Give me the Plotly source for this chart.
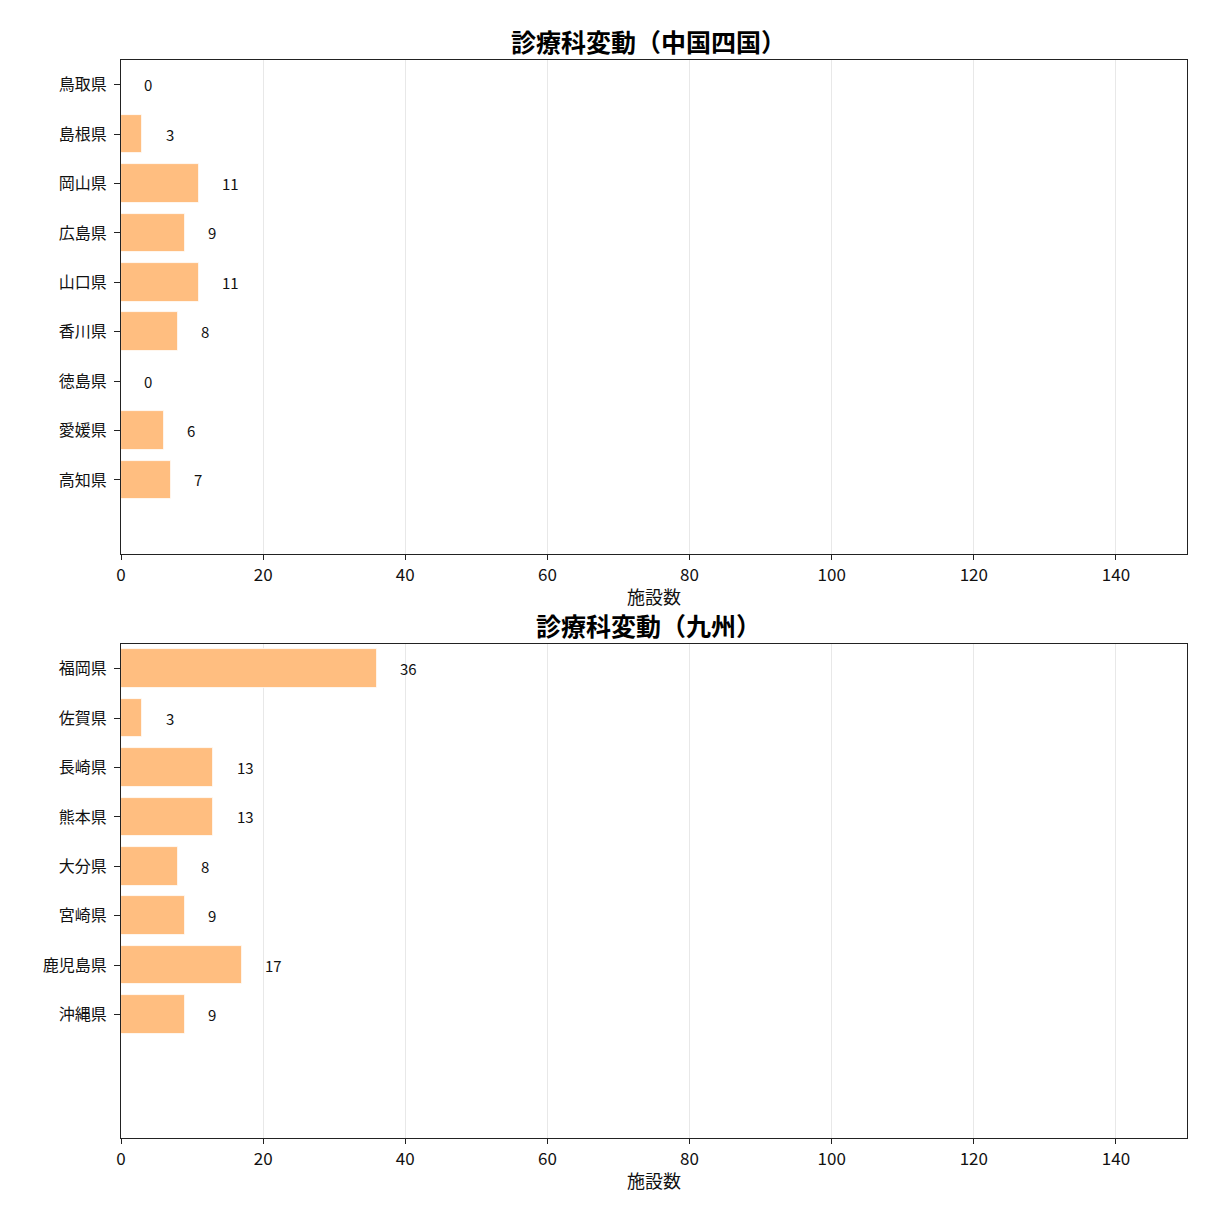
import plotly.graph_objects as go

chushikoku_prefs = ["鳥取県", "島根県", "岡山県", "広島県", "山口県", "香川県", "徳島県", "愛媛県", "高知県"]
chushikoku_vals = [0, 3, 11, 9, 11, 8, 0, 6, 7]
kyushu_prefs = ["福岡県", "佐賀県", "長崎県", "熊本県", "大分県", "宮崎県", "鹿児島県", "沖縄県"]
kyushu_vals = [36, 3, 13, 13, 8, 9, 17, 9]
titles = ["診療科変動（中国四国）", "診療科変動（九州）"]
x_ticks = [0, 20, 40, 60, 80, 100, 120, 140]
x_title = "施設数"

W = H = 1211
FONT = "Noto Sans CJK JP, Noto Sans, sans-serif"
BAR_COLOR = "#ffbe80"

def py(p):
    return 1 - p / H

x_dom = [121 / W, 1187 / W]
panels = [
    (chushikoku_prefs, chushikoku_vals, (60, 554), "x", "y"),
    (kyushu_prefs, kyushu_vals, (644, 1138), "x2", "y2"),
]

fig = go.Figure()
annotations = []
layout = {}
for i, (cats, vals, (top, bot), xa, ya) in enumerate(panels):
    idx = list(range(len(cats)))
    fig.add_trace(go.Bar(
        x=vals, y=idx, orientation="h", width=0.78,
        marker=dict(color=BAR_COLOR, line=dict(color="white", width=0.8)),
        xaxis=xa, yaxis=ya, showlegend=False, hoverinfo="skip",
    ))
    for j, v in zip(idx, vals):
        annotations.append(dict(
            x=v + 3, y=j, xref=xa, yref=ya, text=str(v), showarrow=False,
            xanchor="left", yanchor="middle", font=dict(size=15, color="#111", family=FONT),
        ))
    xk = "xaxis" if xa == "x" else "xaxis2"
    yk = "yaxis" if ya == "y" else "yaxis2"
    layout[xk] = dict(
        domain=x_dom, anchor=ya, range=[0, 150], tickvals=x_ticks,
        ticks="outside", ticklen=5, tickwidth=1.2, tickcolor="#222",
        showline=True, linecolor="#222", linewidth=1.3, mirror=True,
        showgrid=True, gridcolor="#e8e8e8", gridwidth=1, zeroline=False,
        tickfont=dict(size=17, color="#111", family=FONT), automargin=False,
        ticklabelstandoff=0,
    )
    layout[yk] = dict(
        domain=[py(bot), py(top)], anchor=xa, range=[9.5, -0.5],
        tickvals=idx, ticktext=cats,
        ticks="outside", ticklen=6, tickwidth=1.2, tickcolor="#222",
        showline=True, linecolor="#222", linewidth=1.3, mirror=True,
        showgrid=False, zeroline=False, automargin=False,
        tickfont=dict(size=16, color="#111", family=FONT),
        ticklabelstandoff=4,
    )
    annotations.append(dict(
        x=648 / W, y=py(top - 19), xref="paper", yref="paper", text="<b>" + titles[i] + "</b>",
        showarrow=False, xanchor="center", yanchor="middle", borderpad=0,
        font=dict(size=25, color="#000", family=FONT),
    ))
    annotations.append(dict(
        x=654 / W, y=py(bot + 42), xref="paper", yref="paper", text=x_title,
        showarrow=False, xanchor="center", yanchor="middle", borderpad=0,
        font=dict(size=18, color="#111", family=FONT),
    ))

fig.update_layout(
    width=W, height=H, margin=dict(l=0, r=0, t=0, b=0),
    paper_bgcolor="white", plot_bgcolor="white",
    annotations=annotations, bargap=0, **layout,
)
fig.write_html("out.html")
